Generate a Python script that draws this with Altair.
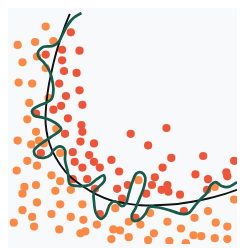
import altair as alt
import pandas as pd

# class A (orange) points
orange_x = [47, 18, 36, 55, 38, 23, 47, 19, 33, 30, 50, 28,
            37, 58, 18, 40, 32, 45, 62, 28, 38, 17, 53, 62, 25, 37, 23, 57, 73,
            38, 62, 85, 23, 53, 73, 33, 86, 14, 35, 100, 61, 117, 88, 83, 115, 119,
            143, 222, 242, 155, 215, 133, 145, 173, 201, 223, 235, 187, 124, 159,
            133, 153, 175, 200, 208, 222, 235, 192]
orange_y = [23, 42, 39, 38, 54, 60, 66, 81, 82, 102, 97, 119,
            132, 129, 141, 141, 145, 144, 154, 162, 167, 172, 177, 183, 189, 187, 196, 193, 192,
            205, 207, 207, 213, 217, 220, 220, 223, 226, 230, 228, 233, 233, 235, 237, 243, 211,
            182, 189, 202, 216, 214, 225, 228, 225, 221, 226, 230, 232, 234, 237,
            241, 244, 245, 239, 240, 242, 243, 247]

# class B (red) points
red_x = [73, 64, 82, 47, 64, 66, 79, 61, 82, 68, 63, 55, 85, 37, 70, 84, 85, 67,
         83, 97, 42, 75, 92, 77, 97, 115, 85, 103, 123, 75, 90, 98, 121, 103,
         135, 172, 153, 177, 210, 242, 168, 202, 234, 235, 160, 215, 132, 157,
         173, 167, 174, 214, 151, 186, 126, 190, 140]
red_y = [29, 47, 48, 52, 58, 69, 71, 82, 89, 95, 105, 109, 104, 113, 118, 125, 132, 134,
         142, 144, 154, 153, 156, 163, 163, 161, 169, 169, 173, 181, 181, 191, 191, 217,
         134, 128, 146, 159, 157, 162, 169, 176, 174, 178, 179, 181, 187, 187,
         187, 192, 194, 192, 196, 197, 201, 214, 221]

# smooth decision boundary
smooth_x = [72, 66, 60, 56, 53, 50, 48, 47, 47, 49, 54, 62, 72, 85, 100, 115,
            130, 145, 160, 180, 200, 215, 230, 245]
smooth_y = [10, 25, 43, 57, 70, 85, 100, 112, 124, 137, 152, 166, 178, 188, 197, 203,
            206, 208, 208, 207, 204, 201, 197, 192]

# over-fitted decision boundary
wiggly_x = [84, 76, 70, 65, 61, 55, 45, 39, 40, 45, 50, 53, 55, 53, 47, 40, 33, 35,
            43, 52, 60, 63, 53, 40, 35, 37, 45, 52, 55, 62, 67, 67, 70, 72, 80, 92,
            100, 107, 108, 102, 97, 97, 99, 104, 109, 113, 117, 121, 126, 130, 133,
            137, 141, 146, 150, 149, 145, 140, 136, 138, 144, 150, 154, 162, 175,
            188, 195, 201, 207, 214, 218, 223, 229, 236, 245]
wiggly_y = [9, 14, 21, 30, 38, 43, 44, 50, 55, 60, 67, 75, 88, 98, 102, 105, 110, 115,
            117, 120, 125, 129, 137, 146, 151, 157, 159, 156, 151, 147, 151, 161, 174,
            186, 188, 187, 181, 177, 182, 189, 194, 204, 216, 222, 218, 208, 204, 205,
            209, 206, 196, 183, 175, 174, 179, 188, 199, 211, 219, 224, 223, 217, 210,
            210, 213, 217, 216, 209, 202, 195, 187, 184, 188, 189, 184]

pts = pd.DataFrame({
    "x": orange_x + red_x,
    "y": orange_y + red_y,
    "cls": ["A"] * len(orange_x) + ["B"] * len(red_x),
})
smooth = pd.DataFrame({"x": smooth_x, "y": smooth_y, "i": list(range(len(smooth_x)))})
wiggly = pd.DataFrame({"x": wiggly_x, "y": wiggly_y, "i": list(range(len(wiggly_x)))})

xs = alt.Scale(domain=[8, 245], nice=False, zero=False)
ys = alt.Scale(domain=[8, 248], nice=False, zero=False, reverse=True)

points = alt.Chart(pts).mark_circle(size=72, opacity=1, clip=True).encode(
    x=alt.X("x:Q", scale=xs, axis=None),
    y=alt.Y("y:Q", scale=ys, axis=None),
    color=alt.Color("cls:N", scale=alt.Scale(domain=["A", "B"], range=["#fc8a45", "#ee5538"]), legend=None),
)

black = alt.Chart(smooth).mark_line(interpolate="catmull-rom", color="#111111", strokeWidth=2, clip=True).encode(
    x=alt.X("x:Q", scale=xs, axis=None),
    y=alt.Y("y:Q", scale=ys, axis=None),
    order="i:Q",
)

green = alt.Chart(wiggly).mark_line(interpolate="catmull-rom", color="#165c4b", strokeWidth=2.8, clip=True).encode(
    x=alt.X("x:Q", scale=xs, axis=None),
    y=alt.Y("y:Q", scale=ys, axis=None),
    order="i:Q",
)

chart = alt.layer(points, black, green).properties(
    width=237, height=240, padding=0, autosize="none", background="#f7f9fb"
).configure_view(strokeWidth=0)

chart.save("out.html", embed_options={"renderer": "svg", "actions": False})
